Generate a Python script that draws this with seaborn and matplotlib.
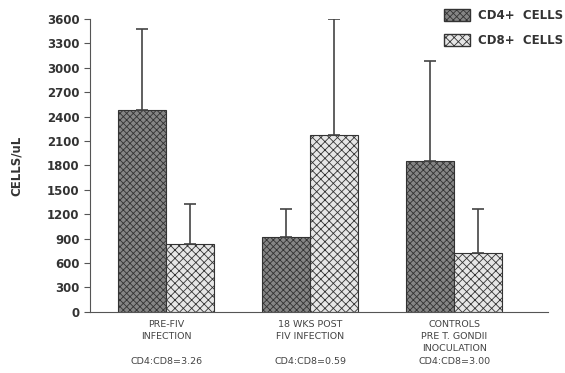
import pandas as pd
import matplotlib.pyplot as plt
import seaborn as sns
from matplotlib.patches import Patch

groups = ["PRE-FIV\nINFECTION\n\nCD4:CD8=3.26",
          "18 WKS POST\nFIV INFECTION\n\nCD4:CD8=0.59",
          "CONTROLS\nPRE T. GONDII\nINOCULATION\nCD4:CD8=3.00"]
cells = ["CD4+  CELLS", "CD8+  CELLS"]
cd4_mean = [2480, 920, 1860]
cd4_sd = [1000, 350, 1220]
cd8_mean = [830, 2170, 720]
cd8_sd = [490, 1430, 550]
yticks = list(range(0, 3601, 300))


def main():
    df = pd.DataFrame({
        "group": groups * 2,
        "cell": [cells[0]] * 3 + [cells[1]] * 3,
        "value": cd4_mean + cd8_mean,
    })

    sns.set_style("ticks")
    plt.rcParams["font.family"] = ["DejaVu Sans"]
    plt.rcParams["hatch.color"] = "#666666"
    plt.rcParams["hatch.linewidth"] = 0.6
    fig = plt.figure(figsize=(5.65, 3.73), dpi=100)
    ax = fig.add_axes([0.159, 0.164, 0.811, 0.785])

    colors = ["#858585", "#e6e6e6"]
    sns.barplot(data=df, x="group", y="value", hue="cell", order=groups,
                hue_order=cells, width=0.667, ax=ax, errorbar=None,
                palette=colors, edgecolor="#333333",
                linewidth=0.8, legend=False)

    hatches = ["xxxxx", "xxxx"]
    sds = [cd4_sd, cd8_sd]
    means = [cd4_mean, cd8_mean]
    bar_conts = list(ax.containers)
    for i, cont in enumerate(bar_conts):
        xs = []
        for p in cont:
            p.set_hatch(hatches[i])
            xs.append(p.get_x() + p.get_width() / 2)
        ax.errorbar(xs, means[i], yerr=[[0] * 3, sds[i]], fmt="none",
                    ecolor="#444444", elinewidth=1.2, capsize=4, capthick=1.2)

    ax.set_ylim(0, 3600)
    ax.set_xlim(-0.53, 2.65)
    ax.set_yticks(yticks)
    ax.set_yticklabels([str(t) for t in yticks], fontweight="bold", fontsize=8.5,
                       color="#333333")
    ax.tick_params(axis="x", length=0, labelsize=6.8, labelcolor="#444444", pad=6)
    ax.tick_params(axis="y", direction="out", length=4, color="#555555")
    for lab in ax.get_xticklabels():
        lab.set_linespacing(1.45)
    ax.set_xlabel("")
    ax.set_ylabel("CELLS/uL", fontweight="bold", fontsize=8.5, color="#333333",
                  labelpad=17)
    sns.despine(ax=ax)
    for s in ["left", "bottom"]:
        ax.spines[s].set_color("#555555")

    handles = [Patch(facecolor=colors[0], edgecolor="#333333", hatch=hatches[0]),
               Patch(facecolor=colors[1], edgecolor="#333333", hatch=hatches[1])]
    leg = ax.legend(handles, cells, loc="upper right", bbox_to_anchor=(1.055, 1.07),
                    frameon=False, prop={"weight": "bold", "size": 8.5},
                    handlelength=2.2, handleheight=1.2, labelspacing=1.0,
                    handletextpad=0.6)
    for t in leg.get_texts():
        t.set_color("#333333")

    fig.savefig("out.png", dpi=100)


if __name__ == "__main__":
    main()
